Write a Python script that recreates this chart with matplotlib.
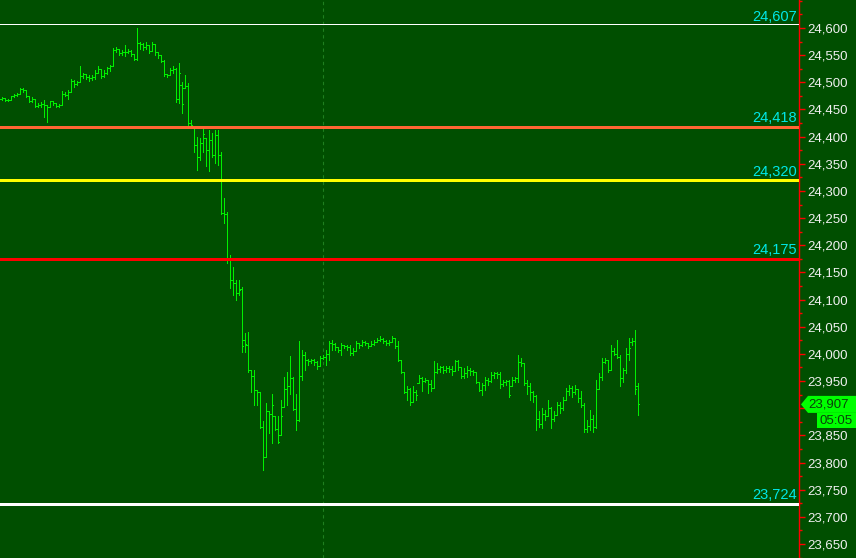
import matplotlib
matplotlib.use("Agg")
import matplotlib.pyplot as plt
from matplotlib.ticker import MultipleLocator, FuncFormatter, FixedLocator
from matplotlib.patches import Polygon
import numpy as np

plt.rcParams['font.family'] = ['Liberation Sans', 'DejaVu Sans']

opens = [
    24470, 24471, 24468, 24467, 24474, 24476, 24478, 24487, 24486, 24475,
    24466, 24470, 24456, 24459, 24460, 24458, 24455, 24465, 24462, 24456,
    24458, 24478, 24477, 24483, 24503, 24497, 24500, 24512, 24515, 24510,
    24508, 24510, 24518, 24525, 24512, 24518, 24526, 24530, 24560, 24562,
    24554, 24556, 24556, 24558, 24552, 24542, 24572, 24570, 24565, 24568,
    24558, 24570, 24556, 24550, 24540, 24515, 24513, 24522, 24524, 24470,
    24495, 24490, 24494, 24425, 24415, 24385, 24363, 24388, 24397, 24375,
    24394, 24366, 24403, 24366, 24260, 24258, 24175, 24136, 24130, 24112,
    24120, 24026, 24017, 23970, 23960, 23934, 23930, 23866, 23811, 23894,
    23890, 23885, 23862, 23851, 23903, 23935, 23940, 23955, 23898, 23878,
    23960, 23998, 23988, 23986, 23988, 23985, 23978, 23992, 23995, 24000,
    24020, 24018, 24012, 24008, 24016, 24014, 24012, 24002, 24006, 24020,
    24016, 24022, 24020, 24014, 24019, 24022, 24026, 24028, 24024, 24020,
    24022, 24030, 24015, 23988, 23966, 23930, 23935, 23912, 23930, 23946,
    23955, 23950, 23952, 23945, 23938, 23967, 23972, 23975, 23970, 23974,
    23972, 23968, 23986, 23975, 23960, 23965, 23970, 23968, 23966, 23948,
    23934, 23942, 23952, 23950, 23962, 23964, 23963, 23945, 23948, 23950,
    23940, 23952, 23955, 23985, 23983, 23946, 23940, 23930, 23922, 23880,
    23870, 23890, 23885, 23900, 23880, 23888, 23905, 23900, 23915, 23932,
    23937, 23930, 23935, 23918, 23905, 23862, 23868, 23880, 23866, 23935,
    23958, 23985, 23988, 23970, 24005, 24000, 23995, 23955, 23970, 24000,
    24022, 24024, 23940]

highs = [
    24473, 24471, 24470, 24475, 24478, 24480, 24490, 24490, 24486, 24475,
    24472, 24470, 24462, 24464, 24468, 24459, 24466, 24466, 24462, 24460,
    24484, 24482, 24485, 24506, 24504, 24503, 24530, 24518, 24515, 24514,
    24514, 24522, 24530, 24525, 24522, 24528, 24532, 24564, 24565, 24562,
    24560, 24568, 24562, 24560, 24552, 24600, 24574, 24572, 24574, 24568,
    24574, 24570, 24556, 24550, 24541, 24516, 24526, 24530, 24526, 24535,
    24500, 24513, 24498, 24431, 24415, 24400, 24397, 24415, 24397, 24412,
    24406, 24412, 24412, 24372, 24287, 24262, 24182, 24160, 24136, 24136,
    24124, 24038, 24041, 23970, 23970, 23934, 23930, 23876, 23909, 23895,
    23927, 23885, 23885, 23915, 23958, 23967, 23996, 23958, 23927, 24023,
    24008, 24004, 23990, 23990, 23990, 23986, 23996, 23998, 24008, 24023,
    24026, 24020, 24012, 24020, 24017, 24017, 24017, 24011, 24023, 24020,
    24025, 24023, 24020, 24023, 24026, 24029, 24032, 24029, 24026, 24026,
    24032, 24030, 24023, 23988, 23966, 23940, 23937, 23940, 23934, 23962,
    23958, 23955, 23952, 23952, 23986, 23984, 23977, 23977, 23977, 23977,
    23977, 23989, 23989, 23975, 23974, 23977, 23974, 23971, 23966, 23948,
    23946, 23958, 23955, 23967, 23967, 23967, 23967, 23952, 23952, 23952,
    23958, 23958, 23998, 23992, 23983, 23952, 23946, 23931, 23924, 23894,
    23900, 23897, 23915, 23903, 23894, 23912, 23912, 23921, 23937, 23943,
    23940, 23943, 23935, 23931, 23909, 23878, 23897, 23888, 23952, 23964,
    23992, 23992, 23989, 24017, 24011, 24026, 23998, 23974, 24011, 24029,
    24029, 24044, 23946]

lows = [
    24468, 24466, 24466, 24467, 24473, 24475, 24478, 24483, 24472, 24463,
    24464, 24454, 24455, 24455, 24437, 24427, 24455, 24458, 24454, 24455,
    24458, 24474, 24470, 24483, 24492, 24495, 24500, 24508, 24506, 24502,
    24504, 24506, 24517, 24508, 24510, 24516, 24520, 24530, 24555, 24551,
    24551, 24548, 24554, 24548, 24541, 24541, 24562, 24560, 24562, 24554,
    24558, 24550, 24545, 24538, 24512, 24510, 24513, 24518, 24464, 24462,
    24443, 24490, 24421, 24418, 24372, 24339, 24357, 24372, 24345, 24336,
    24363, 24351, 24348, 24258, 24241, 24168, 24121, 24108, 24100, 24108,
    24004, 24004, 23967, 23930, 23906, 23906, 23863, 23787, 23811, 23855,
    23836, 23860, 23836, 23851, 23903, 23906, 23927, 23897, 23860, 23876,
    23952, 23970, 23980, 23984, 23980, 23973, 23978, 23990, 23980, 23989,
    24008, 24008, 24004, 23998, 24011, 24008, 23998, 23998, 24006, 24011,
    24014, 24017, 24011, 24014, 24017, 24022, 24023, 24020, 24017, 24017,
    24022, 24011, 23986, 23965, 23928, 23915, 23906, 23912, 23915, 23946,
    23931, 23949, 23928, 23931, 23938, 23965, 23967, 23965, 23967, 23967,
    23962, 23968, 23971, 23955, 23955, 23958, 23961, 23961, 23946, 23931,
    23924, 23934, 23943, 23949, 23955, 23955, 23937, 23940, 23943, 23921,
    23940, 23949, 23949, 23977, 23943, 23927, 23915, 23912, 23860, 23866,
    23863, 23878, 23885, 23863, 23876, 23888, 23891, 23897, 23915, 23924,
    23921, 23927, 23912, 23903, 23857, 23857, 23860, 23857, 23863, 23935,
    23952, 23983, 23967, 23970, 23998, 23992, 23940, 23949, 23964, 23989,
    24017, 23927, 23888]

closes = [
    24471, 24468, 24467, 24474, 24476, 24478, 24487, 24486, 24475, 24466,
    24470, 24456, 24459, 24460, 24458, 24455, 24465, 24462, 24456, 24458,
    24478, 24477, 24483, 24503, 24497, 24500, 24512, 24515, 24510, 24508,
    24510, 24518, 24525, 24512, 24518, 24526, 24530, 24560, 24562, 24554,
    24556, 24556, 24558, 24552, 24542, 24572, 24570, 24565, 24568, 24558,
    24570, 24556, 24550, 24540, 24515, 24513, 24522, 24524, 24470, 24518,
    24460, 24494, 24425, 24422, 24385, 24363, 24388, 24404, 24375, 24394,
    24366, 24403, 24366, 24260, 24258, 24175, 24136, 24130, 24112, 24118,
    24015, 24018, 23970, 23960, 23934, 23930, 23866, 23811, 23894, 23890,
    23905, 23862, 23838, 23885, 23935, 23940, 23955, 23898, 23878, 23960,
    23998, 23988, 23986, 23988, 23985, 23978, 23992, 23995, 24000, 24020,
    24018, 24012, 24008, 24016, 24014, 24012, 24002, 24006, 24020, 24016,
    24022, 24020, 24014, 24019, 24022, 24026, 24028, 24024, 24020, 24022,
    24030, 24015, 23988, 23966, 23930, 23935, 23912, 23930, 23925, 23955,
    23950, 23952, 23945, 23938, 23967, 23972, 23975, 23970, 23974, 23972,
    23968, 23986, 23975, 23960, 23965, 23970, 23968, 23966, 23948, 23934,
    23942, 23952, 23950, 23962, 23964, 23963, 23945, 23948, 23950, 23925,
    23952, 23955, 23985, 23983, 23946, 23940, 23930, 23922, 23880, 23870,
    23890, 23885, 23900, 23880, 23888, 23905, 23900, 23915, 23932, 23937,
    23930, 23935, 23918, 23905, 23862, 23868, 23880, 23866, 23935, 23958,
    23985, 23988, 23970, 24005, 24000, 23995, 23955, 23970, 24000, 24010,
    24024, 23936, 23907]

level_values = [24607, 24418, 24320, 24175, 23724]
level_colors = ['#ffffff', '#ff6633', '#ffff00', '#ff0000', '#ffffff']
level_widths_px = [1, 3, 3, 3, 3]
last_price = 23907
last_time = "05:05"
session_break = 107.2
y_ticks = list(range(23650, 24601, 50))
hidden_tick = 23900  # covered by the last-price marker

W, H = 856, 558
BG = '#004f00'
BAR = '#00f000'
PX = 0.72  # points per pixel at dpi 100

fig = plt.figure(figsize=(W / 100, H / 100), dpi=100)
fig.patch.set_facecolor(BG)
ax = fig.add_axes([0, 0, 799 / W, 1])
ax.set_facecolor(BG)

idx = np.arange(len(closes))
ax.vlines(idx, lows, highs, color=BAR, lw=PX, antialiased=False, zorder=3)
ax.hlines(opens, idx - 0.55, idx, color=BAR, lw=PX, antialiased=False, zorder=3)
ax.hlines(closes, idx, idx + 0.55, color=BAR, lw=PX, antialiased=False, zorder=3)

ax.axvline(session_break, color='#1f7f1f', lw=0.8, ls=(0, (3, 3)), zorder=1)

for v, c, w in zip(level_values, level_colors, level_widths_px):
    ax.axhline(v, color=c, lw=w * PX, zorder=4)
    ax.annotate(f"{v:,}", xy=(1, v), xycoords=('axes fraction', 'data'),
                xytext=(-2, w / 2), textcoords='offset pixels',
                ha='right', va='bottom', color='#00e8e8', fontsize=10.5, zorder=5)

ax.set_xlim(-0.5, 265.83)
ax.set_ylim(23624.2, 24651.5)
ax.set_xticks([])
ax.yaxis.tick_right()
ax.yaxis.set_major_locator(FixedLocator(y_ticks))
ax.yaxis.set_minor_locator(MultipleLocator(25))
ax.yaxis.set_major_formatter(FuncFormatter(
    lambda v, p: "" if int(round(v)) == hidden_tick else f"{int(round(v)):,}"))
ax.tick_params(axis='y', which='major', colors='#ff0000', labelcolor='#f0f0f0',
               length=4, width=1, pad=2, labelsize=9.5)
ax.tick_params(axis='y', which='minor', colors='#ff0000', length=2, width=1)
for s in ['top', 'left', 'bottom']:
    ax.spines[s].set_visible(False)
ax.spines['right'].set_color('#ff0000')
ax.spines['right'].set_linewidth(1)

# current price marker and time box (display pixel coordinates)
fig.canvas.draw()
yc = ax.transData.transform((0, last_price))[1]
hh = 8.5
arrow = Polygon([(801, yc), (808, yc + hh), (856, yc + hh), (856, yc - hh), (808, yc - hh)],
                closed=True, facecolor='#00ff00', edgecolor='none', transform=None, zorder=10)
fig.patches.append(arrow)
fig.text(829 / W, yc / H, f"{last_price:,}", ha='center', va='center', color='#0a400a',
         fontsize=9.5, zorder=11)
tb_top = yc - hh
tb_bot = tb_top - 15
tbox = Polygon([(817, tb_top), (856, tb_top), (856, tb_bot), (817, tb_bot)], closed=True,
               facecolor='#00ff00', edgecolor='none', transform=None, zorder=10)
fig.patches.append(tbox)
fig.text(836 / W, (tb_top + tb_bot) / 2 / H - 0.5 / H, last_time, ha='center', va='center',
         color='#0a400a', fontsize=9.5, zorder=11)

fig.savefig("out.png", dpi=100, facecolor=BG)
